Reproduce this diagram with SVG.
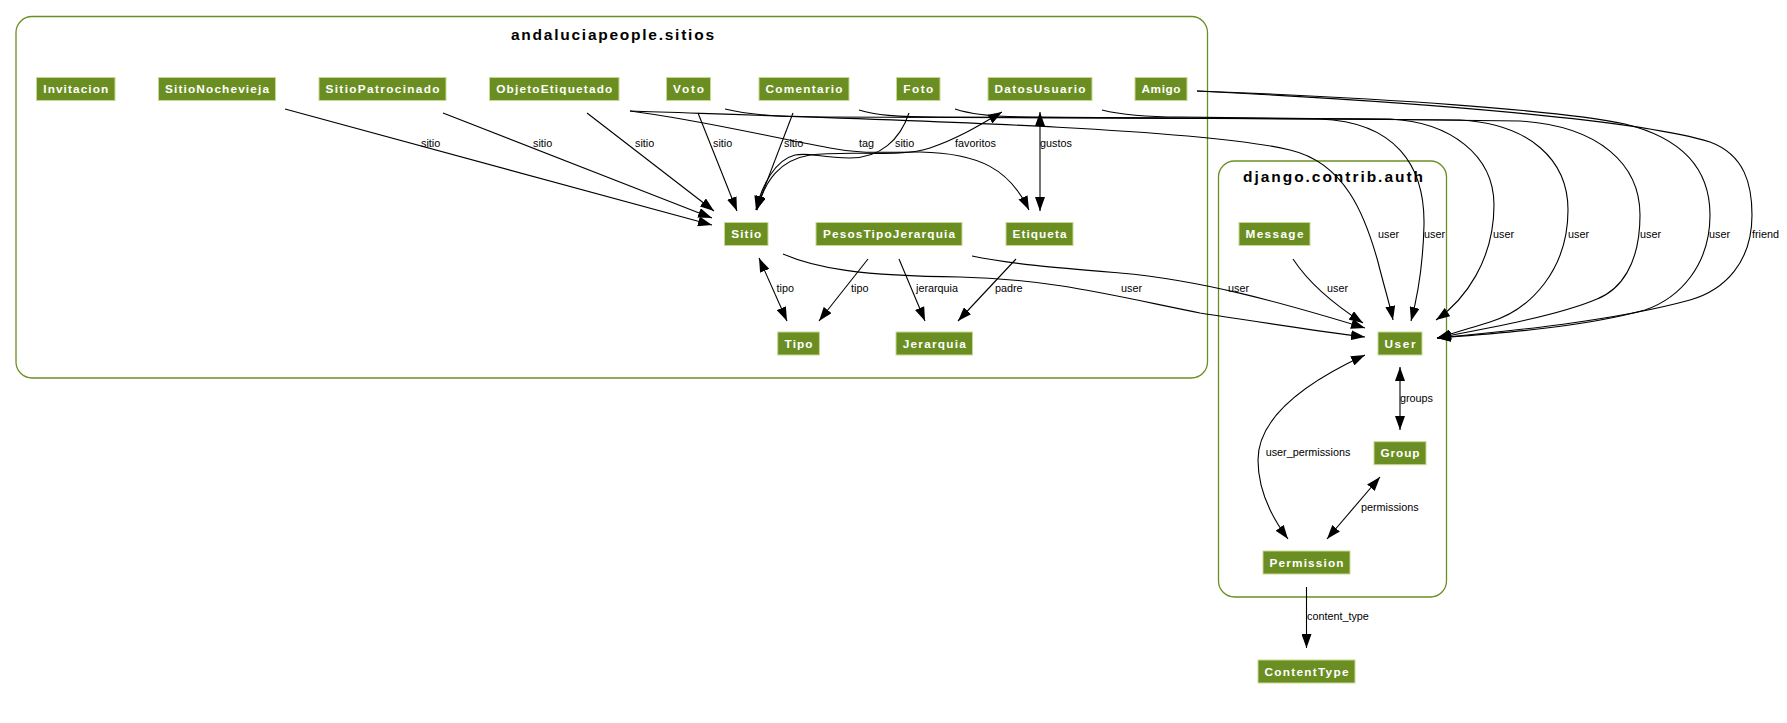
<svg xmlns="http://www.w3.org/2000/svg" width="1787" height="723" viewBox="0 0 1787 723">
<style>
.cl{fill:none;stroke:#6b8e23;stroke-width:1.3}
.ct{font-family:"Liberation Sans",Arial,sans-serif;font-size:15.5px;font-weight:bold;fill:#000}
.nb{fill:#6b8e23;stroke:#c8d890;stroke-width:1}
.nt{font-family:"Liberation Sans",Arial,sans-serif;font-size:11.8px;font-weight:bold;fill:#fff;text-anchor:middle}
.e{fill:none;stroke:#000;stroke-width:1.1}
.a{marker-end:url(#ah)}
.b{marker-end:url(#ah);marker-start:url(#ah)}
.el{font-family:"Liberation Sans",Arial,sans-serif;font-size:10.8px;fill:#000}
</style>
<defs>
<marker id="ah" markerUnits="userSpaceOnUse" markerWidth="14" markerHeight="10" refX="14" refY="5" orient="auto-start-reverse" viewBox="0 0 14 10">
<path d="M0,0 L14,5 L0,10 z" fill="#000"/>
</marker>
</defs>
<rect width="1787" height="723" fill="#fff"/>
<g id="cluster_sitios">
<rect class="cl" x="16" y="16.5" width="1191.5" height="361.5" rx="16"/>
<text class="ct" x="511" y="39.5" textLength="203" lengthAdjust="spacing">andaluciapeople.sitios</text>
</g>
<g id="cluster_auth">
<rect class="cl" x="1218.5" y="161" width="228" height="436" rx="16"/>
<text class="ct" x="1243" y="182" textLength="180" lengthAdjust="spacing">django.contrib.auth</text>
</g>
<g id="edges">
<path class="e a" d="M285,109 L712,225"/>
<path class="e a" d="M443,113 L712,218"/>
<path class="e a" d="M587,113 L714,211"/>
<path class="e a" d="M698,113 L737,211"/>
<path class="e a" d="M793,113 L756,210"/>
<path class="e a" d="M909,113 C 900,140 880,158 850,158 C 820,158 810,152 795,155 C 775,160 762,185 756,210"/>
<path class="e b" d="M757,210 C 765,180 780,160 810,155 C 850,150 900,158 930,148 C 960,138 985,122 1002,112"/>
<path class="e a" d="M630,111 C 700,120 760,135 830,148 C 860,154 880,152 920,152 C 980,153 1010,170 1029,210"/>
<path class="e b" d="M1040,112 L1040,211"/>
<path class="e a" d="M630,111 C 900,120 1200,128 1290,150 C 1345,163 1365,215 1378,262 C 1385,290 1390,305 1393,320"/>
<path class="e a" d="M725,109 C 745,114 770,117 820,117 L 1320,119 C 1395,122 1425,165 1424,225 C 1423,265 1418,295 1411,321"/>
<path class="e a" d="M859,110 C 875,115 895,117 940,117 L 1390,119 C 1450,122 1494,155 1494,205 C 1494,260 1465,300 1436,320"/>
<path class="e a" d="M955,109 C 970,114 990,117 1030,117 L 1460,120 C 1530,124 1568,160 1568,210 C 1568,270 1530,310 1490,322 C 1470,328 1455,333 1437,338"/>
<path class="e a" d="M1102,110 C 1118,114 1140,117 1180,117 L 1520,121 C 1600,126 1640,165 1640,215 C 1640,265 1620,290 1597,299 C 1560,315 1490,328 1437,338"/>
<path class="e a" d="M1197,91 C 1380,98 1560,110 1625,124 C 1690,140 1710,175 1710,215 C 1710,265 1680,298 1645,310 C 1580,328 1490,334 1437,338"/>
<path class="e a" d="M1197,91 C 1420,102 1640,120 1710,142 C 1745,155 1752,185 1752,215 C 1752,262 1725,290 1690,300 C 1610,322 1500,332 1437,338"/>
<path class="e a" d="M783,254 C 815,268 860,276 960,277 C 1050,279 1110,295 1200,313 C 1260,322 1310,330 1365,337"/>
<path class="e a" d="M972,256 C 1010,264 1060,268 1120,273 C 1200,280 1280,302 1365,328"/>
<path class="e a" d="M1293,259 C 1310,285 1335,305 1363,323"/>
<path class="e b" d="M759,258 L787,321"/>
<path class="e a" d="M868,259 L819,321"/>
<path class="e a" d="M899,259 L925,321"/>
<path class="e a" d="M1016,259 L958,321"/>
<path class="e b" d="M1400,367 L1400,430"/>
<path class="e b" d="M1365,355 C 1300,385 1258,420 1258,460 C 1258,490 1270,515 1288,539"/>
<path class="e b" d="M1380,477 L1327,539"/>
<path class="e a" d="M1306.5,587 L1306.5,648"/>
<text class="el" x="421" y="147">sitio</text>
<text class="el" x="533" y="147">sitio</text>
<text class="el" x="635" y="147">sitio</text>
<text class="el" x="713" y="147">sitio</text>
<text class="el" x="784" y="147">sitio</text>
<text class="el" x="859" y="147">tag</text>
<text class="el" x="895" y="147">sitio</text>
<text class="el" x="955" y="147">favoritos</text>
<text class="el" x="1040" y="147">gustos</text>
<text class="el" x="1378" y="238">user</text>
<text class="el" x="1424" y="238">user</text>
<text class="el" x="1493" y="238">user</text>
<text class="el" x="1568" y="238">user</text>
<text class="el" x="1640" y="238">user</text>
<text class="el" x="1709" y="238">user</text>
<text class="el" x="1752" y="238">friend</text>
<text class="el" x="1121" y="292">user</text>
<text class="el" x="1228" y="292">user</text>
<text class="el" x="1327" y="292">user</text>
<text class="el" x="776.5" y="292">tipo</text>
<text class="el" x="851" y="292">tipo</text>
<text class="el" x="916" y="292">jerarquia</text>
<text class="el" x="995" y="292">padre</text>
<text class="el" x="1400" y="402">groups</text>
<text class="el" x="1265.7" y="456">user_permissions</text>
<text class="el" x="1361" y="511">permissions</text>
<text class="el" x="1307" y="620">content_type</text>
</g>
<g id="Invitacion"><rect class="nb" x="36.5" y="77.5" width="78.5" height="23"/><text class="nt" x="75.75" y="93.2" textLength="65" lengthAdjust="spacing">Invitacion</text></g>
<g id="SitioNochevieja"><rect class="nb" x="158.5" y="77.5" width="117" height="23"/><text class="nt" x="217" y="93.2" textLength="104" lengthAdjust="spacing">SitioNochevieja</text></g>
<g id="SitioPatrocinado"><rect class="nb" x="319" y="77.5" width="127" height="23"/><text class="nt" x="382.5" y="93.2" textLength="114" lengthAdjust="spacing">SitioPatrocinado</text></g>
<g id="ObjetoEtiquetado"><rect class="nb" x="489.5" y="77.5" width="129.5" height="23"/><text class="nt" x="554.25" y="93.2" textLength="116" lengthAdjust="spacing">ObjetoEtiquetado</text></g>
<g id="Voto"><rect class="nb" x="666.5" y="77.5" width="44" height="23"/><text class="nt" x="688.5" y="93.2" textLength="31" lengthAdjust="spacing">Voto</text></g>
<g id="Comentario"><rect class="nb" x="759" y="77.5" width="90" height="23"/><text class="nt" x="804" y="93.2" textLength="77" lengthAdjust="spacing">Comentario</text></g>
<g id="Foto"><rect class="nb" x="896.5" y="77.5" width="43.5" height="23"/><text class="nt" x="918.25" y="93.2" textLength="30" lengthAdjust="spacing">Foto</text></g>
<g id="DatosUsuario"><rect class="nb" x="988" y="77.5" width="104" height="23"/><text class="nt" x="1040" y="93.2" textLength="91" lengthAdjust="spacing">DatosUsuario</text></g>
<g id="Amigo"><rect class="nb" x="1135" y="77.5" width="52" height="23"/><text class="nt" x="1161" y="93.2" textLength="39" lengthAdjust="spacing">Amigo</text></g>
<g id="Sitio"><rect class="nb" x="724.5" y="222.5" width="43.5" height="23"/><text class="nt" x="746.25" y="238.2" textLength="30" lengthAdjust="spacing">Sitio</text></g>
<g id="PesosTipoJerarquia"><rect class="nb" x="816" y="222.5" width="146" height="23"/><text class="nt" x="889" y="238.2" textLength="132" lengthAdjust="spacing">PesosTipoJerarquia</text></g>
<g id="Etiqueta"><rect class="nb" x="1006" y="222.5" width="67" height="23"/><text class="nt" x="1039.5" y="238.2" textLength="54" lengthAdjust="spacing">Etiqueta</text></g>
<g id="Tipo"><rect class="nb" x="777.7" y="332" width="41.7" height="23"/><text class="nt" x="798.55" y="347.7" textLength="28" lengthAdjust="spacing">Tipo</text></g>
<g id="Jerarquia"><rect class="nb" x="896" y="332" width="76.5" height="23"/><text class="nt" x="934.25" y="347.7" textLength="63" lengthAdjust="spacing">Jerarquia</text></g>
<g id="Message"><rect class="nb" x="1239" y="222.5" width="71" height="23"/><text class="nt" x="1274.5" y="238.2" textLength="58" lengthAdjust="spacing">Message</text></g>
<g id="User"><rect class="nb" x="1378" y="332" width="44" height="23"/><text class="nt" x="1400" y="347.7" textLength="31" lengthAdjust="spacing">User</text></g>
<g id="Group"><rect class="nb" x="1374" y="441.7" width="52" height="23"/><text class="nt" x="1400" y="457.4" textLength="39" lengthAdjust="spacing">Group</text></g>
<g id="Permission"><rect class="nb" x="1263" y="551" width="87" height="23"/><text class="nt" x="1306.5" y="566.7" textLength="74" lengthAdjust="spacing">Permission</text></g>
<g id="ContentType"><rect class="nb" x="1258" y="660" width="97" height="23"/><text class="nt" x="1306.5" y="675.7" textLength="84" lengthAdjust="spacing">ContentType</text></g>
</svg>
